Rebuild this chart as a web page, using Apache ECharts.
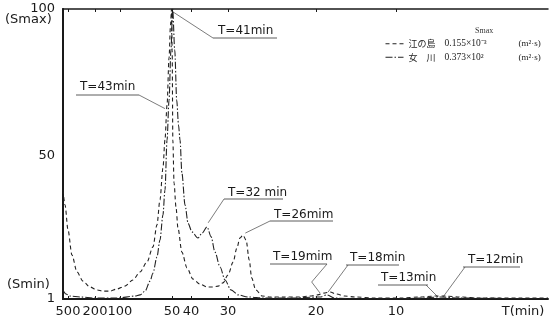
<!DOCTYPE html>
<html><head><meta charset="utf-8">
<script src="https://cdn.jsdelivr.net/npm/echarts@6/dist/echarts.min.js"></script>
<style>html,body{margin:0;padding:0;background:#fff}#c{width:556px;height:320px}</style>
</head><body><div id="c"></div>
<script>
// x-axis scale anchors: period T (min) and axis position (0..1000)
const scaleT   = [600, 500, 200, 100, 50, 40, 30, 20, 10, 2.5];
const scalePos = [0, 10.3, 66, 117.5, 224.7, 263.9, 340.2, 521.6, 686.6, 1000];
const tickT = [500, 200, 100, 50, 40, 30, 20, 10];
const tickLabels = ['500', '200', '100', '50', '40', '30', '20', '10'];
const xName = 'T(min)';
const yTicks = [1, 50, 100];

// 江の島 (dashed)
const enoT = [600,557,500,437,368,301,237,189,160,132,109,93.6,84.1,76.6,69.8,64.4,61.1,58.7,56.4,54.9,53.4,52.0,51.0,50.3,49.9,49.5,48.8,47.7,46.6,44.5,41.9,39.4,37.3,35.3,33.7,32.4,31.2,30.0,29.3,28.8,28.4,28.0,27.6,27.2,26.9,26.4,25.6,24.7,23.1,21.5,20.6,19.7,18.7,17.7,16.8,15.6,14.3,12.0,9.64,8.03,7.01,6.40,5.58,4.65,3.23,2.5];
const enoS = [38.2,33.1,24.6,16.0,10.2,7.1,5.1,4.1,3.7,3.7,4.4,5.4,7.5,10.2,13.6,18.8,26.3,34.8,45.7,55.3,67.2,83.3,94.5,100,86.0,55.3,40.6,32.4,25.2,17.0,11.6,7.8,6.1,5.1,5.1,5.4,6.5,9.2,13.6,18.4,21.8,22.8,21.1,14.3,8.2,4.1,2.0,1.7,1.7,1.7,2.0,2.4,3.0,3.4,2.7,2.0,1.7,1.3,1.3,1.7,2.0,2.0,1.7,1.3,1.3,1.3];

// 女川 (dash-dot)
const onaT = [600,538,467,333,200,109,81.9,76.6,71.6,67.0,64.4,61.1,58.7,56.4,54.9,53.4,52.0,50.7,49.6,48.4,47.3,46.3,45.5,44.5,42.9,41.4,39.7,37.9,36.7,35.3,34.2,33.2,31.9,30.7,29.6,28.6,27.4,25.3,22.5,19.3,18.2,17.0,13.7,9.64,8.03,6.70,5.58,2.5];
const onaS = [4.1,2.7,2.0,1.7,1.3,1.3,2.0,2.4,3.7,7.1,9.9,15.3,21.1,29.7,38.2,55.3,68.9,86.0,100,86.0,68.9,60.4,55.3,44.0,33.1,26.9,23.9,21.8,23.5,25.6,22.2,17.0,11.9,7.5,4.1,2.4,1.7,1.3,1.3,1.7,2.4,1.3,1.0,1.0,1.3,1.7,1.3,1.0];

const seriesNames = ['江の島', '女川'];
const legendNames = ['江の島', '女　川'];
const legendVals = ['0.155×10⁻³', '0.373×10²'];
const legendUnits = ['(m²·s)', '(m²·s)'];

// peak annotations
const annoText = ['T=41min','T=43min','T=32 min','T=26mim','T=19mim','T=18min','T=13min','T=12min'];
const annoT = [49.4, 54.9, 35.0, 27.7, 19.3, 18.0, 6.82, 6.51];
const annoS = [99, 66, 27, 23.5, 3.0, 3.4, 1.7, 1.7];
const annoBendT = [null, null, null, null, 20.4, null, null, null];
const annoBendS = [null, null, null, null, 6.8, null, null, null];

function toPos(t) {
  const lt = Math.log10(t);
  for (let i = 0; i < scaleT.length - 1; i++) {
    const a = Math.log10(scaleT[i]), b = Math.log10(scaleT[i + 1]);
    if (lt <= a && lt >= b) return scalePos[i] + (a - lt) / (a - b) * (scalePos[i + 1] - scalePos[i]);
  }
  return lt > Math.log10(scaleT[0]) ? 0 : 1000;
}
const tickPos = tickT.map(toPos);
const namePos = 948.5;

const chart = echarts.init(document.getElementById('c'), null, {renderer: 'canvas'});
const ink = '#1a1a1a';
const font = '"DejaVu Sans", sans-serif';
const dashes = [[4, 3], [7, 2, 1.5, 2]];

chart.setOption({
  animation: false,
  backgroundColor: '#fff',
  title: {text: 'Smax', left: 470, top: 22, textStyle: {fontSize: 8, fontWeight: 'normal', color: '#333', fontFamily: '"Liberation Serif", serif'}},
  legend: {
    orient: 'vertical', left: 380, top: 34, itemWidth: 18, itemHeight: 8, itemGap: 4,
    data: seriesNames.map((n, i) => ({name: n, itemStyle: {opacity: 0}, lineStyle: {type: dashes[i], width: 1, color: '#222'}})),
    formatter: n => { const i = seriesNames.indexOf(n); return '{n|' + legendNames[i] + '}{v|' + legendVals[i] + '}{u|' + legendUnits[i] + '}'; },
    textStyle: {color: '#222', fontSize: 9.5, fontFamily: '"Liberation Serif", "Noto Sans CJK JP", serif',
      rich: {n: {width: 36, fontSize: 9, fontFamily: '"Noto Sans CJK JP"'}, v: {width: 74, fontSize: 9.5}, u: {fontSize: 9}}}
  },
  grid: {left: 63, right: 8, top: 9, bottom: 21},
  xAxis: [{
    type: 'value', min: 0, max: 1000,
    axisLine: {show: true, lineStyle: {color: ink, width: 2}},
    splitLine: {show: false},
    axisTick: {show: true, inside: true, length: 3, customValues: tickPos, lineStyle: {color: ink}},
    axisLabel: {customValues: tickPos.concat([namePos]), margin: 6, color: ink, fontSize: 13, fontFamily: font,
      formatter: v => { if (Math.abs(v - namePos) < 0.01) return xName; const i = tickPos.findIndex(p => Math.abs(p - v) < 0.01); return i >= 0 ? tickLabels[i] : ''; }}
  }, {
    type: 'value', min: 0, max: 1000, position: 'top',
    axisLine: {show: true, lineStyle: {color: ink, width: 1.5}},
    splitLine: {show: false},
    axisTick: {show: true, inside: true, length: 3, customValues: tickPos, lineStyle: {color: ink}},
    axisLabel: {show: false}
  }],
  yAxis: [{
    type: 'value', min: 1, max: 100,
    axisLine: {show: true, lineStyle: {color: ink, width: 2}},
    splitLine: {show: false},
    axisTick: {show: false},
    axisLabel: {customValues: yTicks, margin: 8, color: ink, fontSize: 13, fontFamily: font}
  }, {
    type: 'value', min: 1, max: 100, position: 'right',
    axisLine: {show: true, lineStyle: {color: ink, width: 1.5}},
    splitLine: {show: false}, axisTick: {show: false}, axisLabel: {show: false}
  }],
  series: [{
    name: seriesNames[0], type: 'line', xAxisIndex: 0, yAxisIndex: 0,
    data: enoT.map((t, i) => [toPos(t), enoS[i]]),
    symbol: 'none', smooth: 0.3, smoothMonotone: 'x',
    lineStyle: {color: '#222', width: 1.1, type: dashes[0]}, itemStyle: {color: '#222'}
  }, {
    name: seriesNames[1], type: 'line', xAxisIndex: 0, yAxisIndex: 0,
    data: onaT.map((t, i) => [toPos(t), onaS[i]]),
    symbol: 'none', smooth: 0.3, smoothMonotone: 'x',
    lineStyle: {color: '#222', width: 1.1, type: dashes[1]}, itemStyle: {color: '#222'}
  }]
});

// annotation layout (label placement in pixels)
const labelXY = [[218,31],[80,87],[228,193],[274,215],[273,257],[350,258],[381,278],[468,260]];
const underline = [[213,277,38],[76,139,95],[224,283,199],[270,333,221],[270,327,264],[346,399,265],[378,428,285],[463,520,267]];
const leaderStart = [[213,38],[139,95],[224,199],[270,221],[327,264],[348,265],[426,285],[465,267]];

const g = [];
annoText.forEach((txt, i) => {
  g.push({type: 'text', silent: true, style: {text: txt, x: labelXY[i][0], y: labelXY[i][1], font: '12px ' + font, fill: ink, verticalAlign: 'middle', align: 'left'}});
  const u = underline[i];
  g.push({type: 'line', silent: true, shape: {x1: u[0], y1: u[2], x2: u[1], y2: u[2]}, style: {stroke: '#333', lineWidth: 0.8}});
  const pts = [leaderStart[i]];
  if (annoBendT[i] != null) pts.push(chart.convertToPixel({xAxisIndex: 0, yAxisIndex: 0}, [toPos(annoBendT[i]), annoBendS[i]]));
  pts.push(chart.convertToPixel({xAxisIndex: 0, yAxisIndex: 0}, [toPos(annoT[i]), annoS[i]]));
  g.push({type: 'polyline', silent: true, shape: {points: pts}, style: {stroke: '#444', lineWidth: 0.7, fill: null}});
});
g.push({type: 'text', silent: true, style: {text: '(Smax)', x: 5, y: 20, font: '13px ' + font, fill: ink, verticalAlign: 'middle'}});
g.push({type: 'text', silent: true, style: {text: '(Smin)', x: 7, y: 285, font: '13px ' + font, fill: ink, verticalAlign: 'middle'}});
chart.setOption({graphic: g});
</script>
</body></html>
